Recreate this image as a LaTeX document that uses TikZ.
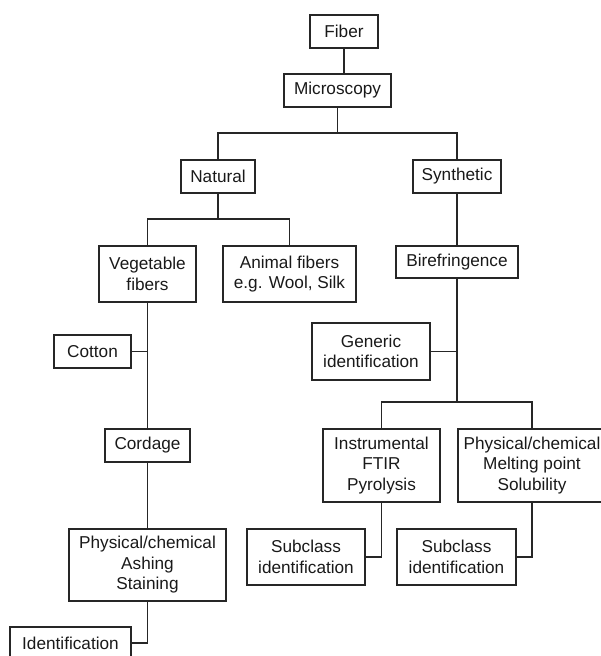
\documentclass[tikz,border=0pt]{standalone}
\usepackage{fontspec}
\setmainfont{Liberation Sans}
\begin{document}
\begin{tikzpicture}[x=1pt,y=-1pt,
  box/.style={draw=black!85,line width=1.1pt,rectangle,inner sep=0pt,align=center,
    font=\fontsize{17.2}{20.5}\selectfont,text=black!90},
  conn/.style={draw=black!85,line width=1.1pt}]
\useasboundingbox (0,0) rectangle (600,656);
\node[box,minimum width=68,minimum height=33] (fiber) at (344,31.5) {Fiber};
\node[box,minimum width=107,minimum height=33] (micro) at (337.5,90.5) {Microscopy};
\node[box,minimum width=74,minimum height=33] (natural) at (218,176.5) {Natural};
\node[box,minimum width=88,minimum height=33] (synth) at (457,176.5) {Synthetic};
\node[box,minimum width=97,minimum height=56] (veg) at (147.5,274) {Vegetable\\fibers};
\node[box,minimum width=133,minimum height=56] (animal) at (289.5,274) {Animal fibers\\e.g. Wool, Silk};
\node[box,minimum width=122,minimum height=32] (bire) at (457,262) {Birefringence};
\node[box,minimum width=118,minimum height=57] (generic) at (371,351.5) {Generic\\identification};
\node[box,minimum width=77,minimum height=33] (cotton) at (92.5,351.5) {Cotton};
\node[box,minimum width=85,minimum height=33] (cordage) at (147.5,445.5) {Cordage};
\node[box,minimum width=157,minimum height=72] (phys1) at (147.5,565) {Physical/chemical\\Ashing\\Staining};
\node[box,minimum width=121,minimum height=32] (ident) at (70.5,643) {Identification};
\node[box,minimum width=117,minimum height=73] (instr) at (381.5,465.5) {Instrumental\\FTIR\\Pyrolysis};
\node[box,minimum width=148,minimum height=73] (phys2) at (532,465.5) {Physical/chemical\\Melting point\\Solubility};
\node[box,minimum width=118,minimum height=56] (sub1) at (306,557) {Subclass\\identification};
\node[box,minimum width=119,minimum height=56] (sub2) at (456.5,557) {Subclass\\identification};
\coordinate (b1) at (337.5,133);
\coordinate (b2) at (218,219);
\coordinate (b3) at (457,402);
\draw[conn] (fiber.south) -- (fiber.south |- micro.north);
\draw[conn] (micro.south) -- (b1);
\draw[conn] (natural.north) |- (b1) -| (synth.north);
\draw[conn] (natural.south) -- (b2);
\draw[conn] (veg.north) |- (b2) -| (animal.north);
\draw[conn] (synth.south) -- (bire.north);
\draw[conn] (bire.south) -- (b3);
\draw[conn] (generic.east) -- (generic.east -| bire.south);
\draw[conn] (instr.north) |- (b3) -| (phys2.north);
\draw[conn] (sub1.east) -| (instr.south);
\draw[conn] (sub2.east) -| (phys2.south);
\draw[conn] (veg.south) -- (cordage.north);
\draw[conn] (cotton.east) -- (cotton.east -| veg.south);
\draw[conn] (cordage.south) -- (phys1.north);
\draw[conn] (ident.east) -| (phys1.south);
\end{tikzpicture}
\end{document}
